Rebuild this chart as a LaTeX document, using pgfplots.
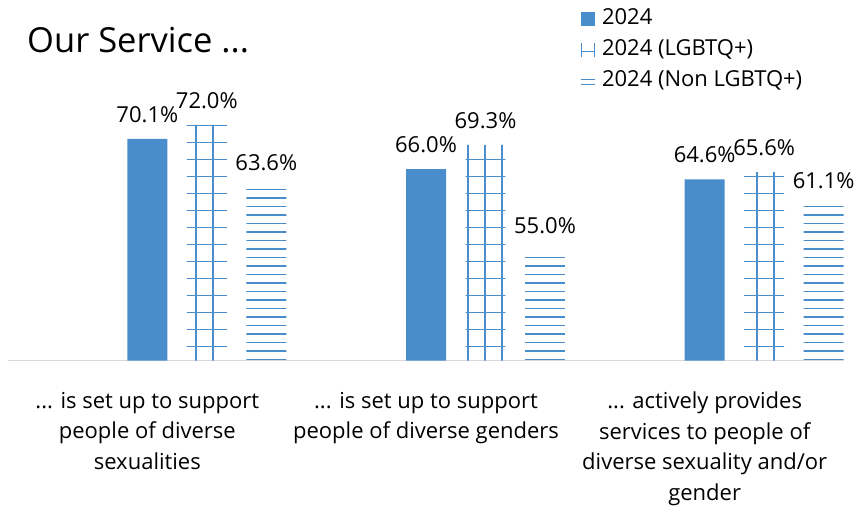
\documentclass[border=0pt]{standalone}
\usepackage{fontspec}
\setmainfont{Open Sans}
\usepackage{pgfplots}
\pgfplotsset{compat=1.18}
\usetikzlibrary{patterns.meta}
\definecolor{barblue}{RGB}{74,141,204}
\definecolor{axgray}{RGB}{217,217,217}
\newcommand{\labfont}{\fontsize{22}{30.5}\selectfont}
\newcommand{\titlefont}{\fontsize{34.5}{40}\selectfont}
\newcommand{\dotsx}{...}
\tikzdeclarepattern{
  name=gridlg,
  type=uncolored,
  bounding box={(-1pt,-1pt) and (18pt,18pt)},
  tile size={(17pt,17pt)},
  code={
    \draw[line width=2pt] (8.5pt,-1pt) -- (8.5pt,18pt);
    \draw[line width=1.1pt] (-1pt,8.5pt) -- (18pt,8.5pt);
  }
}
\tikzdeclarepattern{
  name=hlnon,
  type=uncolored,
  bounding box={(-1pt,-1pt) and (18pt,18pt)},
  tile size={(17pt,17pt)},
  code={
    \draw[line width=2.2pt] (-1pt,4pt) -- (18pt,4pt);
    \draw[line width=1.1pt] (-1pt,12.5pt) -- (18pt,12.5pt);
  }
}
\begin{document}
\begin{tikzpicture}
\useasboundingbox (0,0) rectangle (864pt,508pt);
\begin{axis}[
  at={(8pt,147.3pt)}, anchor=south west,
  scale only axis, width=836pt, height=294.7pt,
  xmin=-0.5, xmax=2.5, ymin=40, ymax=80,
  axis x line=bottom, axis y line=none,
  axis line style={-},
  x axis line style={draw=axgray, line width=1.5pt},
  ytick=\empty,
  xtick={0,1,2},
  major tick length=0pt,
  xticklabels={{\dotsx{} is set up to support\\people of diverse\\sexualities},
               {\dotsx{} is set up to support\\people of diverse genders},
               {\dotsx{} actively provides\\services to people of\\diverse sexuality and/or\\gender}},
  xticklabel style={align=center, font=\labfont, anchor=north, inner sep=0pt, yshift=-31pt},
  ybar, bar width=0.1435,
  point meta=y,
  nodes near coords={\pgfmathprintnumber[fixed,fixed zerofill,precision=1]{\pgfplotspointmeta}\%},
  every node near coord/.append style={font=\labfont, text=black, anchor=base, yshift=16.5pt, inner sep=0pt},
  /pgf/number format/assume math mode=true,
  legend style={at={(0.684,1.2)}, anchor=north west, draw=none, fill=none,
    font=\labfont, inner sep=0pt, row sep=7pt,
    nodes={inner sep=2pt, text height=15pt, text depth=5pt},
    /tikz/every odd column/.append style={column sep=5pt}},
  legend cell align=left,
]
\addplot[fill=barblue, draw=none, bar shift=0pt,
  legend image code/.code={\fill[barblue] (0pt,-7pt) rectangle (14pt,7pt);}]
  coordinates {(0,70.1) (1,66.0) (2,64.6)};
\addlegendentry{2024}
\addplot[pattern=gridlg, pattern color=barblue, draw=none, bar shift=0pt,
  legend image code/.code={\draw[barblue, line width=1pt] (0.5pt,-7pt)--(0.5pt,7pt) (13.5pt,-7pt)--(13.5pt,7pt) (0.5pt,-1pt)--(13.5pt,-1pt);}]
  coordinates {(0.2135,72.0) (1.2135,69.3) (2.2135,65.6)};
\addlegendentry{2024 (LGBTQ+)}
\addplot[pattern=hlnon, pattern color=barblue, draw=none, bar shift=0pt,
  legend image code/.code={\draw[barblue, line width=1pt] (0pt,-3pt)--(14pt,-3pt) (0pt,1.5pt)--(14pt,1.5pt);}]
  coordinates {(0.427,63.6) (1.427,55.0) (2.427,61.1)};
\addlegendentry{2024 (Non LGBTQ+)}
\end{axis}
\node[anchor=base west, font=\titlefont, inner sep=0pt] at (27pt,455pt) {Our Service \dotsx};
\end{tikzpicture}
\end{document}
